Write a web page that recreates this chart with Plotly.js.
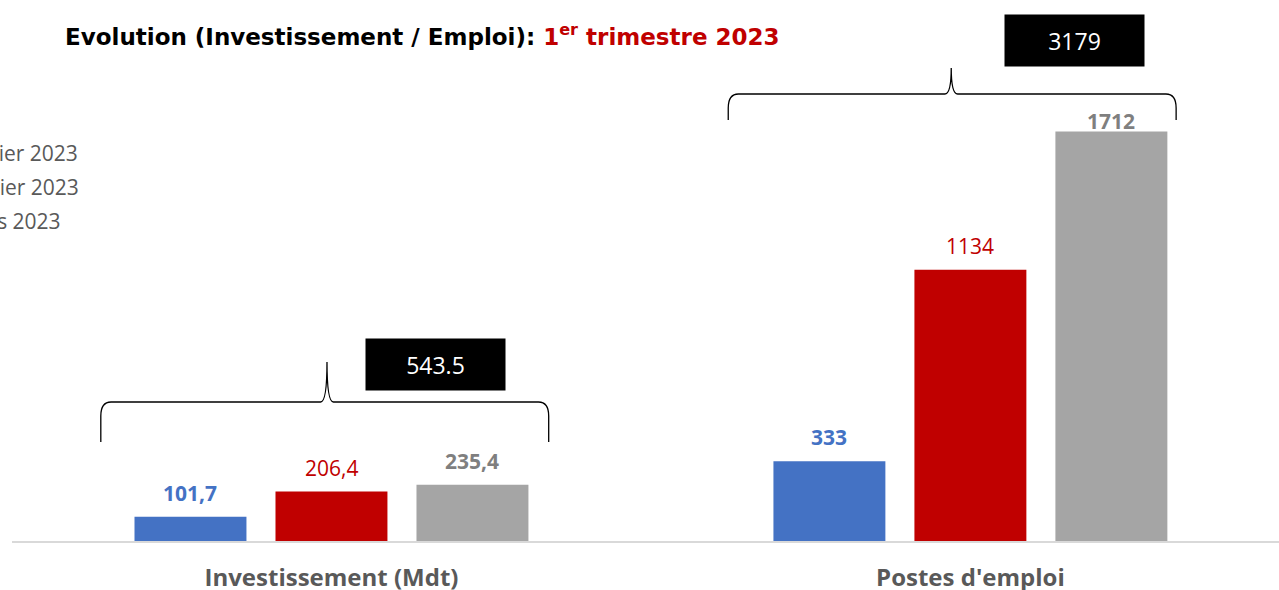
<!DOCTYPE html>
<html><head><meta charset="utf-8">
<script src="https://cdn.plot.ly/plotly-3.0.1.min.js"></script>
<style>html,body{margin:0;padding:0;background:#fff;}#chart{width:1279px;height:590px;}</style>
</head><body><div id="chart"></div>
<script>
// ---- data ----
const categories = ['Investissement (Mdt)', "Postes d'emploi"];
const seriesNames = ['Janvier 2023', 'Février 2023', 'Mars 2023'];
const janvier = [101.7, 333];
const fevrier = [206.4, 1134];
const mars = [235.4, 1712];

// ---- styling ----
const barColors = ['#4472C4', '#C00000', '#A5A5A5'];
const labelColors = ['#4472C4', '#C00000', '#7F7F7F'];
const labelWeights = ['bold', 'normal', 'bold'];
const FONT = '"Open Sans", Lato, sans-serif';

const seriesValues = [janvier, fevrier, mars];
const W = 1279, H = 590;
const M = {l: 12, r: 0, t: 60, b: 49};
const plotH = H - M.t - M.b;
const unitsPerPx = 4.18;
const yMax = plotH * unitsPerPx;
const BARGAP = 0.338;
const slot = (1 - BARGAP) / 3;

const fmt = v => String(v).replace('.', ',');

const traces = seriesValues.map((vals, i) => ({
  type: 'bar',
  name: seriesNames[i],
  x: categories,
  y: vals,
  marker: {color: barColors[i]},
  legendgroup: 'g' + i,
  hoverinfo: 'skip'
}));

const annotations = [];
// value labels above bars
const clampVal = (H - M.b - 121) * unitsPerPx;
seriesValues.forEach((vals, i) => {
  vals.forEach((v, j) => {
    annotations.push({
      x: j + (i - 1) * slot, y: v, xref: 'x', yref: 'y',
      text: fmt(v), showarrow: false, yanchor: 'middle',
      yshift: Math.min(24, (clampVal - v) / unitsPerPx),
      font: {family: FONT, size: 21, color: labelColors[i], weight: labelWeights[i]}
    });
  });
});

// totals in black boxes + curly braces over each group
const totals = categories.map((c, j) => seriesValues.reduce((s, a) => s + a[j], 0));
const braceSpec = [
  {xl: -0.361, xr: 0.340, xm: -0.007, yEnd: 442, yLine: 402, yTip: 362, bx: 0.163, by: 364.5},
  {xl: -0.379, xr: 0.322, xm: -0.030, yEnd: 120, yLine: 94, yTip: 68, bx: 0.1635, by: 40}
];
const pxToVal = py => (H - M.b - py) * unitsPerPx;
const pxToPaper = py => (H - M.b - py) / plotH;
const shapes = [];
braceSpec.forEach((b, j) => {
  const dx = 0.016, dxm = 0.010;
  const xl = j + b.xl, xr = j + b.xr, xm = j + b.xm;
  const yE = pxToVal(b.yEnd), yC = pxToVal(b.yLine + 14), yL = pxToVal(b.yLine), yT = pxToVal(b.yTip);
  const path = `M ${xl},${yE} L ${xl},${yC} Q ${xl},${yL} ${xl + dx},${yL} ` +
    `L ${xm - dxm},${yL} Q ${xm},${yL} ${xm},${yT} Q ${xm},${yL} ${xm + dxm},${yL} ` +
    `L ${xr - dx},${yL} Q ${xr},${yL} ${xr},${yC} L ${xr},${yE}`;
  shapes.push({type: 'path', xref: 'x', yref: 'y', path: path, line: {color: '#000', width: 1.3}});
  annotations.push({
    x: j + b.bx, y: pxToPaper(b.by), xref: 'x', yref: 'paper', showarrow: false,
    xanchor: 'center', yanchor: 'middle',
    text: String(Math.round(totals[j] * 10) / 10),
    bgcolor: '#000', width: 137, height: 49, valign: 'middle', align: 'center',
    font: {family: FONT, size: 23, color: '#fff'}
  });
});

const layout = {
  width: W, height: H,
  margin: {l: M.l, r: M.r, t: M.t, b: M.b, autoexpand: false},
  paper_bgcolor: '#fff', plot_bgcolor: '#fff',
  title: {
    text: 'Evolution (Investissement / Emploi): <span style="color:#C00000">1<sup>er</sup> trimestre 2023</span>',
    x: 65 / W, xref: 'container', xanchor: 'left',
    y: 1 - 37 / H, yref: 'container', yanchor: 'middle',
    font: {family: '"DejaVu Sans", "Liberation Sans", sans-serif', size: 23, color: '#000', weight: 'bold'}
  },
  barmode: 'group', bargap: BARGAP, bargroupgap: 0.206,
  xaxis: {
    type: 'category', range: [-0.5, 1.483], showline: true, linecolor: '#D9D9D9', linewidth: 2,
    showgrid: false, zeroline: false, ticks: '', ticklabelstandoff: 14,
    tickfont: {family: FONT, size: 24, color: '#595959', weight: 'bold'}, fixedrange: true
  },
  yaxis: {range: [0, yMax], visible: false, showgrid: false, zeroline: false, fixedrange: true},
  showlegend: true,
  legend: {
    x: -0.0742, xanchor: 'left', y: 0.85, yanchor: 'top',
    font: {family: FONT, size: 21, color: '#595959'},
    bgcolor: 'rgba(0,0,0,0)', tracegroupgap: 4, traceorder: 'grouped'
  },
  shapes: shapes,
  annotations: annotations
};

Plotly.newPlot('chart', traces, layout, {displayModeBar: false, staticPlot: true});
</script></body></html>
